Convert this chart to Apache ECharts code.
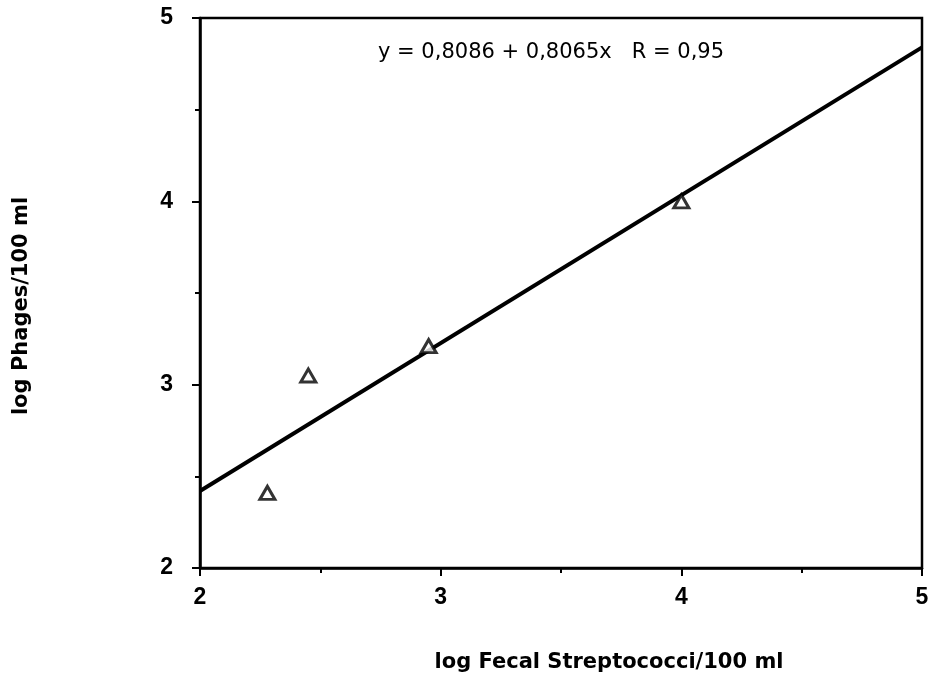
<!DOCTYPE html>
<html><head><meta charset="utf-8">
<script src="https://cdn.jsdelivr.net/npm/echarts@6/dist/echarts.min.js"></script>
<style>html,body{margin:0;padding:0;background:#fff}#c{width:928px;height:681px}</style>
</head><body><div id="c"></div>
<script>
const xTicks = [2, 3, 4, 5];
const yTicks = [2, 3, 4, 5];
const pointsX = [2.28, 2.45, 2.95, 4.00];
const pointsY = [2.41, 3.05, 3.21, 4.00];
const fitX = [2, 5];
const fitY = [2.42, 4.84];
const equationText = 'y = 0,8086 + 0,8065x   R = 0,95';
const xName = 'log Fecal Streptococci/100 ml';
const yName = 'log Phages/100 ml';

const font = '"Liberation Sans", Arial, sans-serif';
const wideFont = '"DejaVu Sans", Verdana, sans-serif';
const chart = echarts.init(document.getElementById('c'), null, {renderer: 'canvas'});
const labelStyle = {color: '#000', fontFamily: font, fontSize: 23, fontWeight: 'bold'};
const axisCommon = {
  type: 'value', min: 2, max: 5, interval: 1,
  axisLine: {show: true, lineStyle: {color: '#000', width: 2.5}},
  axisTick: {show: true, inside: false, length: 8, lineStyle: {color: '#000', width: 2}},
  minorTick: {show: true, splitNumber: 2, length: 5, lineStyle: {color: '#000', width: 2}},
  splitLine: {show: false}
};
chart.setOption({
  backgroundColor: '#fff',
  animation: false,
  grid: {left: 200, right: 6, top: 18, bottom: 113, outerBoundsMode: 'none', containLabel: false,
         show: true, borderColor: '#000', borderWidth: 2.5, backgroundColor: 'transparent'},
  xAxis: Object.assign({}, axisCommon, {
    name: xName, nameLocation: 'middle', nameGap: 84,
    nameTextStyle: {color: '#000', fontFamily: wideFont, fontSize: 21, fontWeight: 'bold', padding: [0, 0, 0, 96]},
    axisLabel: Object.assign({}, labelStyle, {margin: 18, formatter: v => xTicks.includes(v) ? String(v) : ''})
  }),
  yAxis: Object.assign({}, axisCommon, {
    name: yName, nameLocation: 'middle', nameGap: 168, nameRotate: 90,
    nameTextStyle: {color: '#000', fontFamily: wideFont, fontSize: 21, fontWeight: 'bold', padding: [0, 26, 0, 0]},
    axisLabel: Object.assign({}, labelStyle, {margin: 27, formatter: v => yTicks.includes(v) ? String(v) : ''})
  }),
  graphic: [{
    type: 'text', left: 378, top: 42,
    style: {text: equationText, fill: '#000', font: '21px ' + wideFont}
  }],
  series: [
    {
      type: 'line', data: fitX.map((x, i) => [x, fitY[i]]),
      symbol: 'none', lineStyle: {color: '#000', width: 4}, z: 2
    },
    {
      type: 'scatter', data: pointsX.map((x, i) => [x, pointsY[i]]),
      symbol: 'triangle', symbolSize: [15, 13],
      itemStyle: {color: '#fff', borderColor: '#000', borderWidth: 3}, z: 3
    }
  ]
});
</script></body></html>
